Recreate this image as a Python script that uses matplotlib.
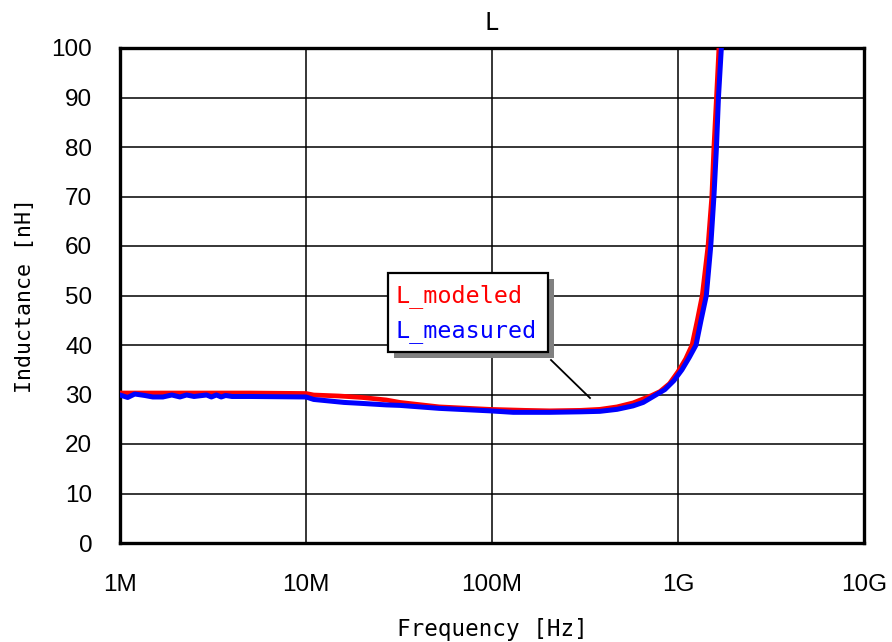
import matplotlib
matplotlib.use("Agg")
import matplotlib.pyplot as plt
from matplotlib.patches import Rectangle
from matplotlib.ticker import FixedLocator, NullLocator

# ---- data ----
freq_mod = [1e6, 2e6, 5e6, 10e6, 11e6, 15e6, 20e6, 27e6, 32e6, 52e6, 97e6, 150e6,
            204e6, 300e6, 380e6, 470e6, 573e6, 722e6, 800e6, 900e6, 1.0e9, 1.1e9,
            1.19e9, 1.27e9, 1.35e9, 1.45e9, 1.52e9, 1.56e9, 1.61e9, 1.66e9, 1.70e9]
L_mod = [30.3, 30.3, 30.3, 30.2, 29.9, 29.7, 29.4, 28.9, 28.4, 27.5, 27.0, 26.8,
         26.7, 26.8, 27.0, 27.5, 28.3, 29.8, 30.6, 32.2, 34.6, 37.2,
         40.0, 45.0, 50.0, 60.0, 70.0, 80.0, 90.0, 100.0, 108.0]

freq_meas = [1e6, 1.1e6, 1.2e6, 1.36e6, 1.5e6, 1.7e6, 1.9e6, 2.1e6, 2.28e6, 2.5e6,
             2.92e6, 3.1e6, 3.3e6, 3.5e6, 3.7e6, 4.0e6, 5e6, 10e6, 11e6, 16e6, 20e6,
             27e6, 32e6, 52e6, 97e6, 130e6, 204e6, 300e6, 380e6, 470e6, 573e6, 650e6,
             767e6, 850e6, 950e6, 1.05e9, 1.15e9, 1.25e9, 1.33e9, 1.42e9, 1.5e9,
             1.56e9, 1.61e9, 1.65e9, 1.71e9, 1.75e9]
L_meas = [29.9, 29.4, 30.1, 29.8, 29.5, 29.5, 29.9, 29.5, 29.9, 29.6,
          29.9, 29.5, 29.9, 29.5, 29.8, 29.6, 29.6, 29.5, 29.0, 28.4, 28.2,
          27.9, 27.8, 27.2, 26.7, 26.4, 26.4, 26.5, 26.6, 27.0, 27.7, 28.4,
          30.0, 31.0, 32.8, 35.0, 37.5, 40.0, 45.0, 50.0, 60.0,
          70.0, 80.0, 90.0, 100.0, 108.0]

x_ticks = [1e6, 1e7, 1e8, 1e9, 1e10]
x_labels = ["1M", "10M", "100M", "1G", "10G"]
y_ticks = list(range(0, 101, 10))
title = "L"
xlabel = "Frequency [Hz]"
ylabel = "Inductance [nH]"
legend_labels = ["L_modeled", "L_measured"]

# ---- figure ----
W, H = 892, 642
fig = plt.figure(figsize=(W / 100, H / 100), dpi=100)
ax = fig.add_axes([120 / W, 1 - 543 / H, (864 - 120) / W, (543 - 48) / H])

ax.plot(freq_mod, L_mod, color="#ff0000", lw=3.4, solid_joinstyle="round", zorder=3)
ax.plot(freq_meas, L_meas, color="#0000ff", lw=3.6, solid_joinstyle="round", zorder=4)

ax.set_xscale("log")
ax.set_xlim(1e6, 1e10)
ax.set_ylim(0, 100)
ax.xaxis.set_major_locator(FixedLocator(x_ticks))
ax.xaxis.set_minor_locator(NullLocator())
ax.set_xticklabels(x_labels)
ax.set_yticks(y_ticks)
ax.grid(True, color="black", lw=1.1)
ax.set_axisbelow(True)
for s in ax.spines.values():
    s.set_linewidth(2.4)
    s.set_color("black")
ax.tick_params(length=0, labelsize=17.5)
ax.tick_params(axis="y", pad=20)
ax.tick_params(axis="x", pad=22)
for lab in ax.get_xticklabels() + ax.get_yticklabels():
    lab.set_fontfamily("Liberation Sans")

mono = "DejaVu Sans Mono"
ax.set_title(title, fontsize=17, family=mono, pad=13)
ax.set_xlabel(xlabel, fontsize=16.3, family=mono, labelpad=16)
ax.set_ylabel(ylabel, fontsize=15.6, family=mono, labelpad=12)

# ---- callout legend ----
def fx(px):
    return px / W

def fy(py):
    return 1 - py / H

bx0, bx1, by0, by1 = 388, 548, 273, 352
off = 6
fig.patches.append(Rectangle((fx(bx0 + off), fy(by1 + off)), fx(bx1 - bx0), (by1 - by0) / H,
                             transform=fig.transFigure, facecolor="#808080",
                             edgecolor="none", zorder=5))
fig.patches.append(Rectangle((fx(bx0), fy(by1)), fx(bx1 - bx0), (by1 - by0) / H,
                             transform=fig.transFigure, facecolor="white",
                             edgecolor="black", lw=1.6, zorder=6))
fig.text(fx(396), fy(296), legend_labels[0], color="#ff0000", fontsize=16.8,
         family=mono, va="center", ha="left", zorder=7)
fig.text(fx(396), fy(331), legend_labels[1], color="#0000ff", fontsize=16.8,
         family=mono, va="center", ha="left", zorder=7)
fig.lines.append(plt.Line2D([fx(551), fx(590)], [fy(360), fy(398)],
                            transform=fig.transFigure, color="black", lw=1.3, zorder=6))

fig.savefig("out.png", dpi=100)
